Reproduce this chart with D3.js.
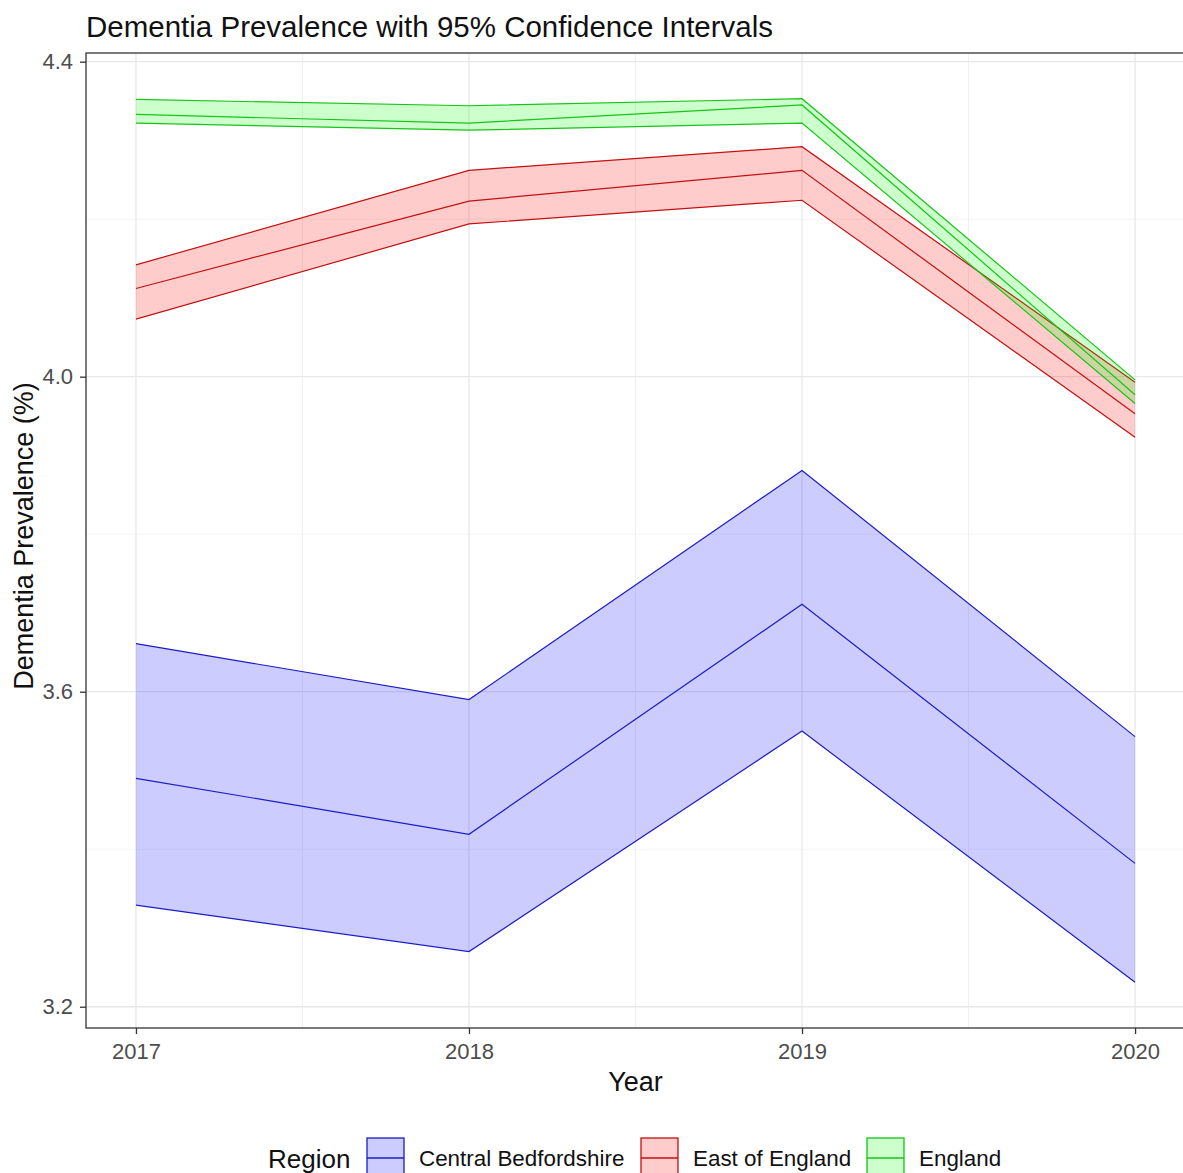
<!DOCTYPE html>
<html>
<head>
<meta charset="utf-8">
<script src="https://cdn.jsdelivr.net/npm/d3@7"></script>
<style>
  body { margin: 0; background: #fff; }
  text { font-family: "Liberation Sans", Arial, sans-serif; }
</style>
</head>
<body>
<div class="chart"></div>
<script>
// Chart data
var years = [2017, 2018, 2019, 2020];
var regions = ["Central Bedfordshire", "East of England", "England"];

var cbMean  = [3.490, 3.419, 3.711, 3.382];
var cbLower = [3.329, 3.270, 3.550, 3.231];
var cbUpper = [3.661, 3.590, 3.881, 3.543];

var eoeMean  = [4.112, 4.223, 4.262, 3.953];
var eoeLower = [4.073, 4.194, 4.224, 3.923];
var eoeUpper = [4.142, 4.262, 4.292, 3.993];

var engMean  = [4.333, 4.322, 4.345, 3.977];
var engLower = [4.322, 4.313, 4.322, 3.966];
var engUpper = [4.352, 4.344, 4.353, 3.996];

var yTicks = [3.2, 3.6, 4.0, 4.4];
var yMinor = [3.4, 3.8, 4.2];
var xMinor = [2017.5, 2018.5, 2019.5];

var fills = ["rgba(0,0,255,0.2)", "rgba(255,0,0,0.2)", "rgba(0,255,0,0.2)"];
var strokes = ["#1c1cc4", "#c41010", "#18c418"];

// Set SVG dimensions
var svgWidth = 1183;
var svgHeight = 1173;

var margin = { top: 53, right: -2, bottom: 145, left: 86 };
var width = svgWidth - margin.left - margin.right;
var height = svgHeight - margin.top - margin.bottom;

var svg = d3.select(".chart")
  .append("svg")
  .attr("width", svgWidth)
  .attr("height", svgHeight);

var chartGroup = svg.append("g")
  .attr("transform", `translate(${margin.left}, ${margin.top})`);

// Build series table
var series = regions.map(function (name, i) {
  var m = [cbMean, eoeMean, engMean][i];
  var lo = [cbLower, eoeLower, engLower][i];
  var hi = [cbUpper, eoeUpper, engUpper][i];
  return {
    name: name,
    fill: fills[i],
    stroke: strokes[i],
    values: years.map((y, j) => ({ year: y, mean: m[j], lower: lo[j], upper: hi[j] }))
  };
});

// Scales
var xScale = d3.scaleLinear()
  .domain([2016.85, 2020.15])
  .range([0, width]);

var yScale = d3.scaleLinear()
  .domain([3.173, 4.411])
  .range([height, 0]);

// Grid lines
chartGroup.selectAll(".minorY")
  .data(yMinor).enter().append("line")
  .attr("x1", 0).attr("x2", width)
  .attr("y1", d => yScale(d)).attr("y2", d => yScale(d))
  .attr("stroke", "#f4f4f4").attr("stroke-width", 1);

chartGroup.selectAll(".minorX")
  .data(xMinor).enter().append("line")
  .attr("y1", 0).attr("y2", height)
  .attr("x1", d => xScale(d)).attr("x2", d => xScale(d))
  .attr("stroke", "#f0f0f0").attr("stroke-width", 1);

chartGroup.selectAll(".majorY")
  .data(yTicks).enter().append("line")
  .attr("x1", 0).attr("x2", width)
  .attr("y1", d => yScale(d)).attr("y2", d => yScale(d))
  .attr("stroke", "#e8e8e8").attr("stroke-width", 1.3);

chartGroup.selectAll(".majorX")
  .data(years).enter().append("line")
  .attr("y1", 0).attr("y2", height)
  .attr("x1", d => xScale(d)).attr("x2", d => xScale(d))
  .attr("stroke", "#e8e8e8").attr("stroke-width", 1.3);

// Ribbons
var area = d3.area()
  .x(d => xScale(d.year))
  .y0(d => yScale(d.lower))
  .y1(d => yScale(d.upper));

var lineUpper = d3.line().x(d => xScale(d.year)).y(d => yScale(d.upper));
var lineLower = d3.line().x(d => xScale(d.year)).y(d => yScale(d.lower));
var lineMean = d3.line().x(d => xScale(d.year)).y(d => yScale(d.mean));

series.forEach(function (s) {
  chartGroup.append("path")
    .attr("d", area(s.values))
    .attr("fill", s.fill);
  chartGroup.append("path")
    .attr("d", lineUpper(s.values))
    .attr("fill", "none").attr("stroke", s.stroke).attr("stroke-width", 1.2);
  chartGroup.append("path")
    .attr("d", lineLower(s.values))
    .attr("fill", "none").attr("stroke", s.stroke).attr("stroke-width", 1.2);
});

series.forEach(function (s) {
  chartGroup.append("path")
    .attr("d", lineMean(s.values))
    .attr("fill", "none").attr("stroke", s.stroke).attr("stroke-width", 1.2);
});

// Panel border
chartGroup.append("rect")
  .attr("width", width).attr("height", height)
  .attr("fill", "none").attr("stroke", "#333333").attr("stroke-width", 1.3);

// Axes
var xAxis = d3.axisBottom(xScale).tickValues(years).tickFormat(d3.format("d"))
  .tickSize(6).tickPadding(4);
var yAxis = d3.axisLeft(yScale).tickValues(yTicks).tickFormat(d3.format(".1f"))
  .tickSize(6).tickPadding(7);

var gx = chartGroup.append("g")
  .attr("transform", `translate(0, ${height})`)
  .call(xAxis);
var gy = chartGroup.append("g").call(yAxis);

[gx, gy].forEach(function (g) {
  g.select(".domain").remove();
  g.selectAll(".tick line").attr("stroke", "#333333").attr("stroke-width", 1.3);
  g.selectAll(".tick text")
    .attr("fill", "#4d4d4d")
    .style("font-size", "22px")
    .style("font-family", "'Liberation Sans', Arial, sans-serif");
});
gx.selectAll(".tick text").attr("y", 31).attr("dy", null);

// Title
svg.append("text")
  .attr("x", 86).attr("y", 37)
  .attr("fill", "#111")
  .style("font-size", "29.5px")
  .text("Dementia Prevalence with 95% Confidence Intervals");

// Axis titles
svg.append("text")
  .attr("x", margin.left + xScale(2018.5)).attr("y", 1091)
  .attr("text-anchor", "middle")
  .attr("fill", "#111")
  .style("font-size", "27px")
  .text("Year");

svg.append("text")
  .attr("transform", `translate(33, 536) rotate(-90)`)
  .attr("text-anchor", "middle")
  .attr("fill", "#111")
  .style("font-size", "27px")
  .text("Dementia Prevalence (%)");

// Legend
var legend = svg.append("g");
legend.append("text")
  .attr("x", 268).attr("y", 1168)
  .attr("fill", "#111")
  .style("font-size", "26px")
  .text("Region");

var keyX = [367, 641, 867];
series.forEach(function (s, i) {
  var g = legend.append("g").attr("transform", `translate(${keyX[i]}, 1138)`);
  g.append("rect")
    .attr("width", 37).attr("height", 38)
    .attr("fill", s.fill)
    .attr("stroke", s.stroke).attr("stroke-width", 1.3);
  g.append("line")
    .attr("x1", 0).attr("x2", 37).attr("y1", 20).attr("y2", 20)
    .attr("stroke", s.stroke).attr("stroke-width", 1.3);
  g.append("text")
    .attr("x", 52).attr("y", 28)
    .attr("fill", "#111")
    .style("font-size", "22.4px")
    .text(s.name);
});
</script>
</body>
</html>
